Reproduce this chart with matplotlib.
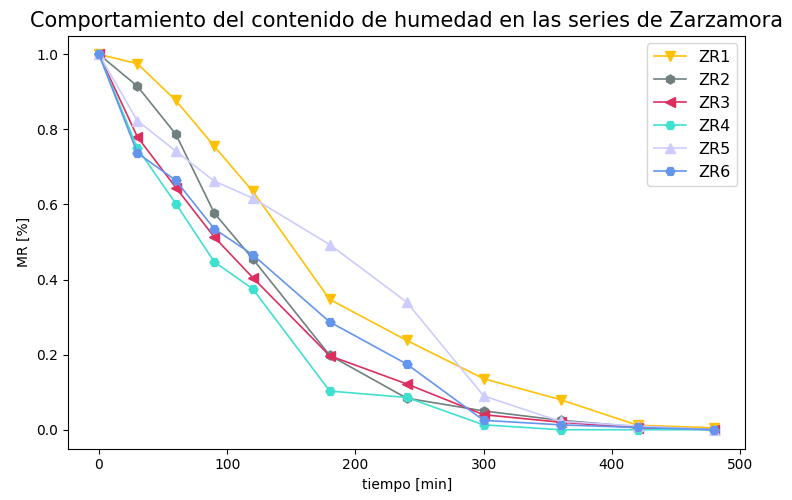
import numpy as np
import matplotlib
matplotlib.use("Agg")
import matplotlib.pyplot as plt

# tiempo de secado (min) y razón de humedad de cada serie
tiempo = [0, 30, 60, 90, 120, 180, 240, 300, 360, 420, 480]
zr1 = [1.0, 0.975, 0.877, 0.755, 0.635, 0.347, 0.238, 0.136, 0.080, 0.012, 0.005]
zr2 = [1.0, 0.915, 0.787, 0.577, 0.455, 0.198, 0.084, 0.050, 0.025, 0.008, 0.0]
zr3 = [1.0, 0.780, 0.645, 0.513, 0.405, 0.197, 0.122, 0.040, 0.020, 0.005, 0.0]
zr4 = [1.0, 0.750, 0.602, 0.447, 0.375, 0.103, 0.086, 0.013, 0.0, 0.0, 0.0]
zr5 = [1.0, 0.823, 0.742, 0.662, 0.617, 0.493, 0.340, 0.090, 0.022, 0.010, 0.0]
zr6 = [1.0, 0.737, 0.664, 0.535, 0.466, 0.287, 0.175, 0.025, 0.013, 0.006, 0.0]

series = ["ZR1", "ZR2", "ZR3", "ZR4", "ZR5", "ZR6"]
valores = [zr1, zr2, zr3, zr4, zr5, zr6]
colores = ["#FFC107", "#708080", "#DC2F5F", "#40E0D0", "#CCCCFF", "#6495ED"]
marcas = ["v", "h", "<", "H", "^", "H"]

fig, ax = plt.subplots(figsize=(7.92, 5), dpi=100)
for nombre, y, c, m in zip(series, valores, colores, marcas):
    ax.plot(tiempo, y, color=c, marker=m, markersize=6.5, linewidth=1.2, label=nombre)

ax.set_title("Comportamiento del contenido de humedad en las series de Zarzamora", fontsize=15)
ax.set_xlabel("tiempo [min]")
ax.set_ylabel("MR [%]")
ax.legend(fontsize=11.5)
plt.subplots_adjust(left=0.086, right=0.941, top=0.929, bottom=0.103)
plt.savefig("out.png")
plt.close()
